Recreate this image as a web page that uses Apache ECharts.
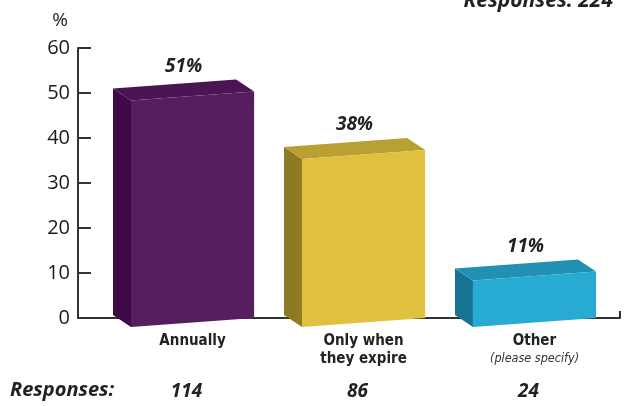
<!DOCTYPE html>
<html>
<head>
<meta charset="utf-8">
<script src="https://cdn.jsdelivr.net/npm/echarts@6/dist/echarts.min.js"></script>
<style>
html,body{margin:0;padding:0;background:#fff;}
#chart{width:624px;height:406px;}
</style>
</head>
<body>
<div id="chart"></div>
<script>
// ---- data ----
const categories = ['Annually', 'Only when\nthey expire', 'Other'];
const categoryNotes = ['', '', '(please specify)'];
const percentValues = [51, 38, 11];
const responseCounts = [114, 86, 24];
const responsesLabel = 'Responses:';
const totalResponsesText = 'Responses: 224';
const yTickValues = [0, 10, 20, 30, 40, 50, 60];

// ---- styles ----
const palette = [
  { front: '#561E5E', side: '#3E0A47', top: '#4B1553' },
  { front: '#E0C03F', side: '#8E7A24', top: '#B9A032' },
  { front: '#27ABD2', side: '#167392', top: '#2190B2' }
];
const condensed = "'Liberation Sans Narrow', 'DejaVu Sans Condensed', 'Roboto Condensed', sans-serif";
const mainFont = "'Open Sans', 'Noto Sans', sans-serif";
const axisColor = '#333';

const chart = echarts.init(document.getElementById('chart'), null, { renderer: 'canvas' });

function renderBar(params, api) {
  const idx = api.value(0);
  const val = api.value(1);
  const half = 0.36;
  const pL = api.coord([idx - half, 0]);
  const pR = api.coord([idx + half, 0]);
  const pT = api.coord([idx, val]);
  const xl = pL[0], xr = pR[0], y0 = pL[1], yv = pT[1];
  const dx = 18, dy = 12;
  const yTL = yv + 12, yTR = yv + 3, yBL = y0 + 9, yBR = y0;
  const c = palette[params.dataIndex];
  return {
    type: 'group',
    children: [
      { type: 'polygon', shape: { points: [[xl - dx, yTL - dy], [xl, yTL], [xl, yBL], [xl - dx, yBL - dy]] }, style: { fill: c.side } },
      { type: 'polygon', shape: { points: [[xl - dx, yTL - dy], [xr - dx, yTR - dy], [xr, yTR], [xl, yTL]] }, style: { fill: c.top } },
      { type: 'polygon', shape: { points: [[xl, yTL], [xr, yTR], [xr, yBR], [xl, yBL]] }, style: { fill: c.front } },
      { type: 'text', style: { text: val + '%', x: (xl + xr) / 2 - 9, y: yv - 22, align: 'center', verticalAlign: 'middle',
          font: 'italic bold 19px ' + mainFont, fill: '#222' } }
    ]
  };
}

const xMin = -0.67, xMax = 2.5;

chart.setOption({
  animation: false,
  title: {
    text: totalResponsesText,
    right: 6, top: -14,
    textStyle: { fontFamily: mainFont, fontSize: 21, fontWeight: 'bold', fontStyle: 'italic', color: '#222' }
  },
  graphic: [
    { type: 'text', left: 10, top: 380, style: { text: responsesLabel, font: 'italic bold 20px ' + mainFont, fill: '#222' } }
  ],
  grid: { left: 78, right: 4, top: 48, bottom: 88 },
  xAxis: [
    {
      type: 'value', min: xMin, max: xMax, position: 'bottom',
      splitLine: { show: false },
      axisLine: { show: true, onZero: false, lineStyle: { color: axisColor, width: 2 } },
      axisTick: { show: true, inside: true, length: 7, customValues: [xMax], lineStyle: { color: axisColor, width: 2 } },
      axisLabel: {
        customValues: [0, 1, 2], margin: 14, lineHeight: 18,
        formatter: function (v) {
          const i = Math.round(v);
          let s = categories[i].split('\n').map(l => '{b|' + l + '}').join('\n');
          if (categoryNotes[i]) s += '\n{n|' + categoryNotes[i] + '}';
          return s;
        },
        rich: {
          b: { fontFamily: condensed, fontWeight: 'bold', fontSize: 15, color: '#222', lineHeight: 18 },
          n: { fontFamily: condensed, fontStyle: 'italic', fontSize: 12.5, color: '#333', lineHeight: 18 }
        }
      }
    },
    {
      type: 'value', min: xMin, max: xMax, position: 'bottom', offset: 60,
      splitLine: { show: false },
      axisLine: { show: false, onZero: false }, axisTick: { show: false },
      axisLabel: {
        customValues: [0, 1, 2], margin: 4, padding: [0, 12, 0, 0],
        formatter: function (v) { return String(responseCounts[Math.round(v)]); },
        fontFamily: mainFont, fontSize: 19, fontWeight: 'bold', fontStyle: 'italic', color: '#222'
      }
    }
  ],
  yAxis: {
    type: 'value', min: 0, max: 60, interval: 10,
    name: '%', nameLocation: 'end', nameGap: 18,
    nameTextStyle: { fontFamily: mainFont, fontSize: 19, color: '#222', padding: [0, 36, 0, 0] },
    splitLine: { show: false },
    axisLine: { show: true, onZero: false, lineStyle: { color: axisColor, width: 2 } },
    axisTick: { show: true, inside: true, length: 13, customValues: yTickValues, lineStyle: { color: axisColor, width: 2 } },
    axisLabel: { customValues: yTickValues, margin: 8, fontFamily: mainFont, fontSize: 20, color: '#1a1a1a' }
  },
  series: [{
    type: 'custom',
    xAxisIndex: 0,
    renderItem: renderBar,
    clip: false,
    data: percentValues.map((v, i) => [i, v])
  }]
});
</script>
</body>
</html>
